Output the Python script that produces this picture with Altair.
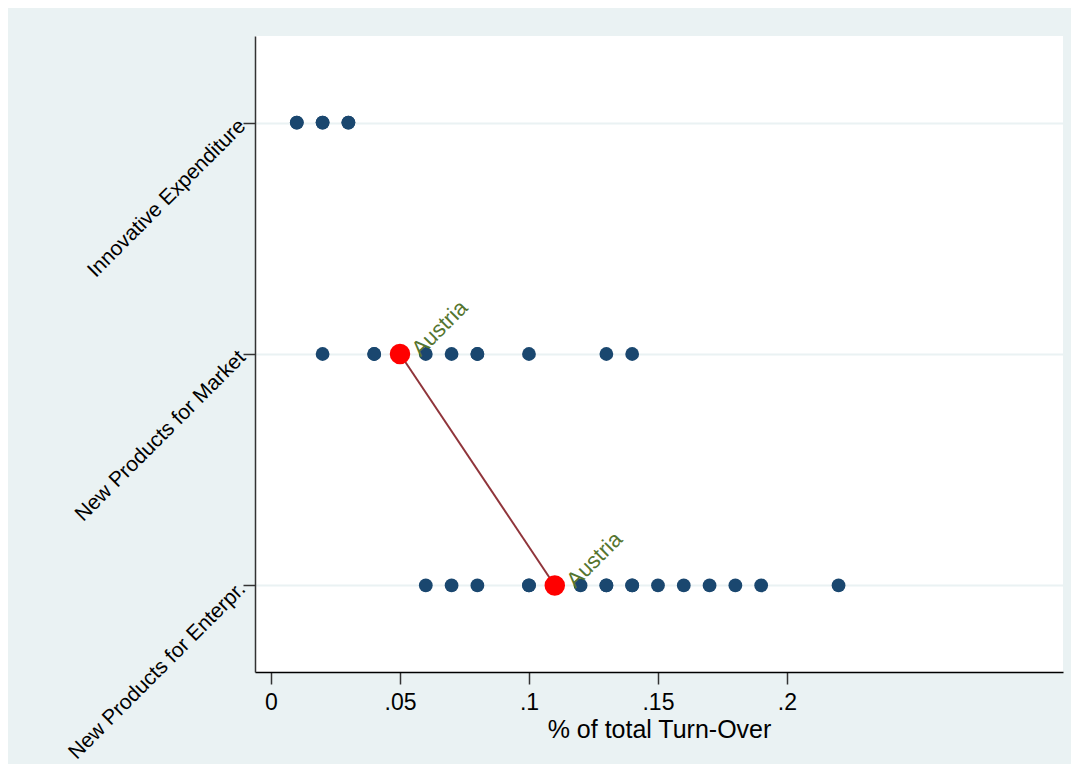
import altair as alt
import pandas as pd

categories = ["Innovative Expenditure", "New Products for Market", "New Products for Enterpr."]
innov_exp = [0.01, 0.01, 0.02, 0.02, 0.03, 0.03]
market = [0.02, 0.04, 0.04, 0.06, 0.07, 0.08, 0.08, 0.10, 0.13, 0.14]
enterpr = [0.06, 0.07, 0.08, 0.10, 0.10, 0.12, 0.13, 0.13, 0.14, 0.14, 0.15, 0.16, 0.17, 0.18, 0.19, 0.22]
highlight_name = "Austria"
highlight_cats = ["New Products for Market", "New Products for Enterpr."]
highlight_vals = [0.05, 0.11]
x_ticks = [0, 0.05, 0.1, 0.15, 0.2]
x_tick_labels = ["0", ".05", ".1", ".15", ".2"]
x_title = "% of total Turn-Over"

rows = []
for cat, vals in zip(categories, [innov_exp, market, enterpr]):
    for v in vals:
        rows.append({"cat": cat, "val": v})
df = pd.DataFrame(rows)
hl = pd.DataFrame({"cat": highlight_cats, "val": highlight_vals, "name": [highlight_name] * len(highlight_vals)})

label_expr = " : ".join(
    f"datum.value == {v} ? '{l}'" for v, l in zip(x_ticks, x_tick_labels)
) + " : ''"

FONT = "Liberation Sans"

x_enc = alt.X(
    "val:Q",
    scale=alt.Scale(domain=[-0.0062, 0.307], nice=False, zero=False),
    axis=alt.Axis(
        values=x_ticks, labelExpr=label_expr, title=x_title, grid=False,
        tickSize=12, labelPadding=7, labelFontSize=23, titleFontSize=25,
        titlePadding=3, titleFontWeight="normal", labelFlush=False,
        domainColor="#000000", domainWidth=1.5, tickColor="#333333", tickWidth=1.5,
        labelColor="#000000", titleColor="#000000", labelFont=FONT, titleFont=FONT,
    ),
)
y_enc = alt.Y(
    "cat:N",
    sort=categories,
    scale=alt.Scale(type="point", padding=0.374),
    axis=alt.Axis(
        title=None, labelAngle=315, labelAlign="right", labelBaseline="middle",
        labelFontSize=21, labelPadding=1, tickSize=12, grid=True,
        gridColor="#EAF2F3", gridWidth=2, domainColor="#333333", domainWidth=1.5,
        tickColor="#333333", tickWidth=1.5, labelColor="#000000", labelFont=FONT,
        labelLimit=400,
    ),
)

base_pts = alt.Chart(df).mark_circle(size=190, opacity=1, color="#1A476F").encode(x=x_enc, y=y_enc)
line = alt.Chart(hl).mark_line(color="#90353B", strokeWidth=2).encode(x="val:Q", y=alt.Y("cat:N", sort=categories))
red_pts = alt.Chart(hl).mark_circle(size=420, opacity=1, color="#FF0000").encode(x="val:Q", y=alt.Y("cat:N", sort=categories))
labels = alt.Chart(hl).mark_text(
    angle=315, align="left", baseline="alphabetic", dx=12, dy=17,
    color="#55752F", fontSize=22, font=FONT,
).encode(x="val:Q", y=alt.Y("cat:N", sort=categories), text="name:N")

chart = (
    alt.layer(base_pts, line, red_pts, labels)
    .properties(
        width=808, height=636,
        padding={"left": 247, "top": 28, "right": 8, "bottom": 92},
        autosize=alt.AutoSizeParams(type="none"),
        background="#EAF2F3",
    )
    .configure_view(stroke=None, fill="white")
)

chart.save("out.html", embed_options={"renderer": "svg", "actions": False})
